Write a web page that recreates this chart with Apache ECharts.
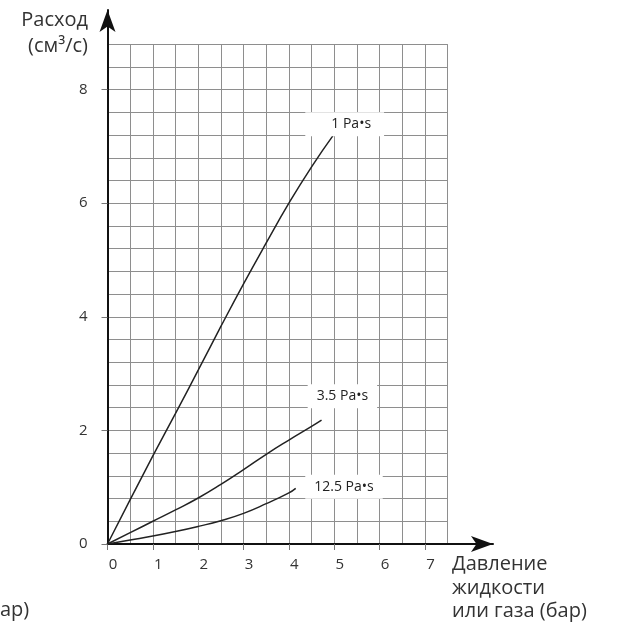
<!DOCTYPE html>
<html><head><meta charset="utf-8">
<script src="https://cdn.jsdelivr.net/npm/echarts@6/dist/echarts.min.js"></script>
<style>html,body{margin:0;padding:0;background:#fff}#c{width:624px;height:629px}</style>
</head><body><div id="c"></div>
<script>
// ---- data ----
const xTickLabels = [0, 1, 2, 3, 4, 5, 6, 7];
const yTickLabels = [0, 2, 4, 6, 8];
const seriesNames = ['1 Pa•s', '3.5 Pa•s', '12.5 Pa•s'];
const pressure1 = [0, 0.5, 1, 1.5, 2, 2.5, 3, 3.5, 4, 4.5, 5];
const flow1     = [0, 0.78, 1.55, 2.3, 3.06, 3.83, 4.58, 5.3, 6.0, 6.64, 7.22];
const pressure2 = [0, 0.5, 1, 1.5, 2, 2.5, 3, 3.5, 4, 4.5, 4.72];
const flow2     = [0, 0.2, 0.4, 0.6, 0.81, 1.05, 1.31, 1.58, 1.83, 2.07, 2.18];
const pressure3 = [0, 0.5, 1, 1.5, 2, 2.5, 3, 3.5, 4, 4.15];
const flow3     = [0, 0.07, 0.14, 0.22, 0.31, 0.41, 0.54, 0.71, 0.9, 0.98];
const xTitle = 'Давление\nжидкости\nили газа (бар)';
const yTitle = 'Расход\n(см³/с)';
const cutText = 'ар)';

// ---- layout ----
const FONT = '"Open Sans", sans-serif';
const OX = 107.5, OY = 544, UX = 45.35, UY = 56.8;
const XMAX = 7.5, YMAX = 8.8, XB = 8.5, YB = 9.4;
const labelAnchors = [[5.23, 7.39], [5.18, 2.6], [5.215, 1.01]];
const labelPads = [[5, 13, 5, 26], [5, 9], [5, 9]];

const zip = (a, b) => a.map((v, i) => [v, b[i]]);
const seriesData = [zip(pressure1, flow1), zip(pressure2, flow2), zip(pressure3, flow3)];

const gridLine = { show: true, lineStyle: { color: '#8e8e8e', width: 1 } };
const chart = echarts.init(document.getElementById('c'), null, { renderer: 'canvas' });
chart.setOption({
  animation: false,
  backgroundColor: '#fff',
  grid: [
    { left: OX, top: OY - YMAX * UY, width: XMAX * UX, height: YMAX * UY },
    { left: OX, top: OY - YB * UY, width: XB * UX, height: YB * UY }
  ],
  xAxis: [
    { gridIndex: 0, type: 'value', min: 0, max: XMAX, interval: 0.5,
      axisLine: { show: false }, axisTick: { show: false }, axisLabel: { show: false },
      splitLine: gridLine },
    { gridIndex: 1, type: 'value', min: 0, max: XB, interval: 1,
      axisLine: { show: true, onZero: false, symbol: ['none', 'arrow'], symbolSize: [12, 22],
        lineStyle: { color: '#111', width: 2 } },
      axisTick: { show: true, customValues: xTickLabels, length: 6, lineStyle: { color: '#777', width: 1 } },
      axisLabel: { show: true, customValues: xTickLabels, margin: 13, padding: [0, 0, 0, 11],
        fontFamily: FONT, fontSize: 15, color: '#333' },
      splitLine: { show: false } }
  ],
  yAxis: [
    { gridIndex: 0, type: 'value', min: 0, max: YMAX, interval: 0.4,
      axisLine: { show: false }, axisTick: { show: false }, axisLabel: { show: false },
      splitLine: gridLine },
    { gridIndex: 1, type: 'value', min: 0, max: YB, interval: 2,
      axisLine: { show: true, onZero: false, symbol: ['none', 'arrow'], symbolSize: [12, 22],
        lineStyle: { color: '#111', width: 2 } },
      axisTick: { show: true, customValues: yTickLabels, length: 6, lineStyle: { color: '#777', width: 1 } },
      axisLabel: { show: true, customValues: yTickLabels, margin: 20,
        fontFamily: FONT, fontSize: 15, color: '#333' },
      splitLine: { show: false } }
  ],
  series: seriesData.map((d, i) => ({
    type: 'line', name: seriesNames[i], xAxisIndex: 0, yAxisIndex: 0,
    data: d, smooth: 0.5, showSymbol: false, symbol: 'none',
    lineStyle: { color: '#222', width: 1.5 },
    markPoint: {
      symbol: 'rect', symbolSize: 0, silent: true,
      data: [{ coord: labelAnchors[i], value: seriesNames[i] }],
      label: { show: true, position: 'inside', formatter: seriesNames[i],
        backgroundColor: '#fff', padding: labelPads[i],
        fontFamily: FONT, fontSize: 14, color: '#222' }
    }
  })),
  graphic: [
    { type: 'text', left: 452, top: 553, style: { text: xTitle, fontFamily: FONT, fontSize: 20,
      lineHeight: 23.5, fill: '#333', textAlign: 'left' } },
    { type: 'text', right: 624 - 88, top: 7, style: { text: yTitle, fontFamily: FONT, fontSize: 20,
      lineHeight: 26, fill: '#333', textAlign: 'right' } },
    { type: 'text', left: 0, top: 600, style: { text: cutText, fontFamily: FONT, fontSize: 20,
      fill: '#333' } }
  ]
});
</script></body></html>
